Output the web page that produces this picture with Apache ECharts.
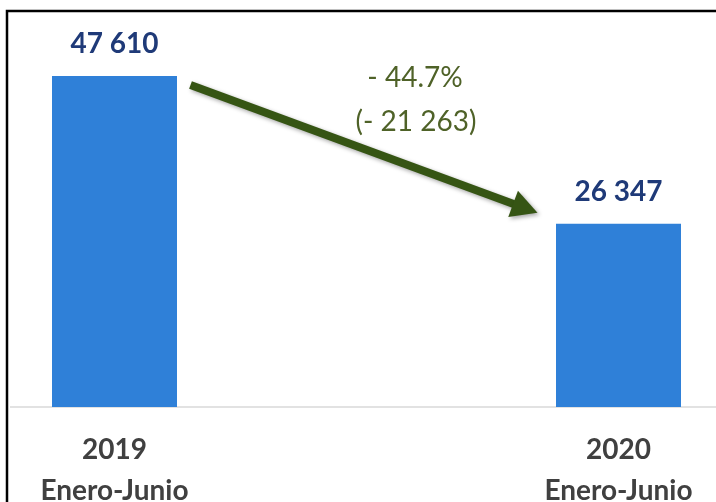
<!DOCTYPE html>
<html>
<head>
<meta charset="utf-8">
<script src="https://cdn.jsdelivr.net/npm/echarts@6/dist/echarts.min.js"></script>
<style>
  html, body { margin: 0; padding: 0; background: #ffffff; }
  #chart { width: 716px; height: 502px; }
</style>
</head>
<body>
<div id="chart"></div>
<script>
// Period labels and totals (January–June)
const categories = ['2019\nEnero-Junio', '2020\nEnero-Junio'];
const totals = [47610, 26347];
const changeLines = ['- 44.7%', '(- 21 263)'];

const fmt = v => String(v).replace(/\B(?=(\d{3})+(?!\d))/g, ' ');

const chart = echarts.init(document.getElementById('chart'), null, { renderer: 'canvas' });

chart.setOption({
  animation: false,
  backgroundColor: '#ffffff',
  grid: {
    left: 114.5, right: 97.5, top: 59.4, bottom: 95,
    containLabel: false,
    outerBoundsMode: 'none'
  },
  xAxis: {
    type: 'category',
    data: categories,
    boundaryGap: false,
    axisLine: { show: false },
    axisTick: { show: false },
    splitLine: { show: false },
    axisLabel: {
      margin: 22,
      color: '#404040',
      fontFamily: 'Lato',
      fontWeight: 'bold',
      fontSize: 28,
      lineHeight: 41
    }
  },
  yAxis: {
    type: 'value',
    min: 0,
    max: 50000,
    show: false,
    splitLine: { show: false }
  },
  series: [{
    type: 'bar',
    data: totals,
    barWidth: 125,
    itemStyle: { color: '#2F80D8' },
    label: {
      show: true,
      position: 'top',
      distance: 18,
      color: '#1F3A78',
      fontFamily: 'Lato',
      fontWeight: 'bold',
      fontSize: 28,
      formatter: p => fmt(p.value)
    }
  }]
});

// Decorations: frame, baseline, change arrow and its annotation
const p0 = chart.convertToPixel({ gridIndex: 0 }, [0, totals[0]]);
const p1 = chart.convertToPixel({ gridIndex: 0 }, [1, totals[1]]);
const base = chart.convertToPixel({ gridIndex: 0 }, [0, 0]);

const start = [p0[0] + 76, p0[1] + 9];
const tip = [p1[0] - 81, p1[1] - 11];
const dx = tip[0] - start[0], dy = tip[1] - start[1];
const len = Math.sqrt(dx * dx + dy * dy);
const ux = dx / len, uy = dy / len;
const nx = -uy, ny = ux;
const headLen = 26, headHalf = 14;
const hb = [tip[0] - ux * headLen, tip[1] - uy * headLen];
const arrowColor = '#365514';
const shadow = { shadowBlur: 4, shadowColor: 'rgba(0,0,0,0.35)', shadowOffsetX: 2, shadowOffsetY: 2 };

chart.setOption({
  graphic: [
    {
      type: 'line',
      shape: { x1: 10, y1: base[1], x2: 716, y2: base[1] },
      style: { stroke: '#D9D9D9', lineWidth: 1.5 },
      z: 1
    },
    {
      type: 'rect',
      shape: { x: 7, y: 11, width: 800, height: 600 },
      style: { fill: null, stroke: '#000000', lineWidth: 2.5 },
      z: 10
    },
    {
      type: 'group',
      z: 5,
      children: [
        {
          type: 'line',
          shape: { x1: start[0], y1: start[1], x2: hb[0] + ux * 2, y2: hb[1] + uy * 2 },
          style: Object.assign({ stroke: arrowColor, lineWidth: 8, lineCap: 'butt' }, shadow)
        },
        {
          type: 'polygon',
          shape: {
            points: [
              tip,
              [hb[0] + nx * headHalf, hb[1] + ny * headHalf],
              [hb[0] - nx * headHalf, hb[1] - ny * headHalf]
            ]
          },
          style: Object.assign({ fill: arrowColor }, shadow)
        }
      ]
    },
    {
      type: 'text',
      x: 415, y: 78,
      style: {
        text: changeLines[0],
        fill: '#4F6228',
        font: '28px Lato',
        align: 'center',
        verticalAlign: 'middle'
      },
      z: 6
    },
    {
      type: 'text',
      x: 416, y: 122,
      style: {
        text: changeLines[1],
        fill: '#4F6228',
        font: '28px Lato',
        align: 'center',
        verticalAlign: 'middle'
      },
      z: 6
    }
  ]
});
</script>
</body>
</html>
